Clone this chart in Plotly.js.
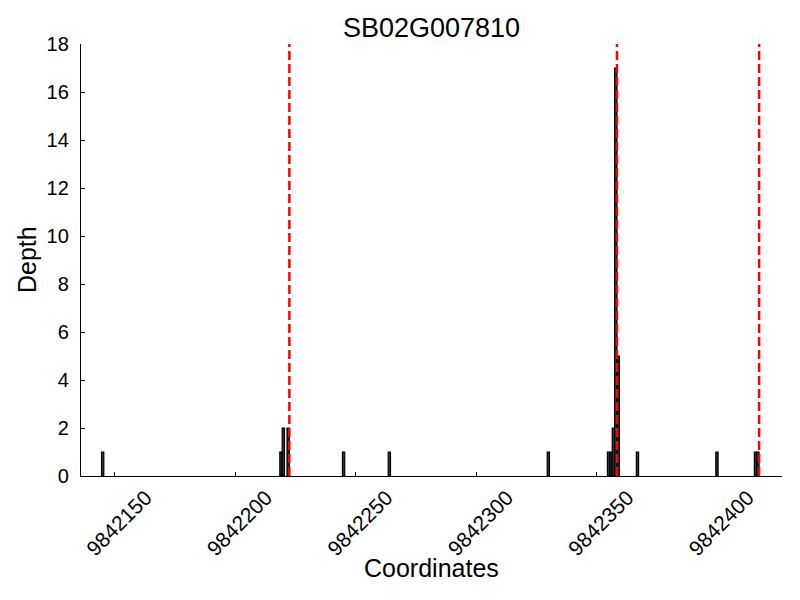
<!DOCTYPE html>
<html>
<head>
<meta charset="utf-8">
<script src="https://cdn.plot.ly/plotly-3.0.1.min.js"></script>
<style>html,body{margin:0;padding:0;background:#fff;}#chart{width:800px;height:600px;}</style>
</head>
<body>
<div id="chart"></div>
<script>
// Data
const chartTitle = "SB02G007810";
const xTitle = "Coordinates";
const yTitle = "Depth";
const positions = [9842145, 9842219, 9842220, 9842222, 9842245, 9842264, 9842330,
                   9842355, 9842356, 9842357, 9842358, 9842359, 9842367, 9842400,
                   9842416, 9842417];
const depths = [1, 1, 2, 2, 1, 1, 1, 1, 1, 2, 17, 5, 1, 1, 1, 1];
const geneBoundaries = [9842222.5, 9842358.5, 9842417.5];
const xTickVals = [9842150, 9842200, 9842250, 9842300, 9842350, 9842400];
const yTickVals = [0, 2, 4, 6, 8, 10, 12, 14, 16, 18];

const FONT = "Liberation Sans, Arial, Helvetica, sans-serif";

const trace = {
  type: "bar",
  x: positions,
  y: depths,
  width: 0.95,
  marker: {color: "#333333", line: {color: "#000", width: 1.2}},
  hoverinfo: "x+y"
};

const shapes = geneBoundaries.map(g => ({
  type: "line", xref: "x", yref: "paper",
  x0: g, x1: g, y0: 0, y1: 1,
  line: {color: "red", width: 2.5, dash: "9px,4px"},
  layer: "above"
}));

const layout = {
  width: 800, height: 600,
  margin: {l: 81, r: 18, t: 44, b: 124},
  paper_bgcolor: "#fff", plot_bgcolor: "#fff",
  showlegend: false,
  bargap: 0,
  title: {text: chartTitle, font: {family: FONT, size: 27, color: "#000"},
          x: 0.5, xref: "paper", xanchor: "center", y: 1 - 28/600, yanchor: "middle", yref: "container"},
  xaxis: {
    range: [9842136, 9842427],
    tickvals: xTickVals, ticktext: xTickVals.map(String),
    tickangle: -45,
    ticks: "inside", ticklen: 4, tickcolor: "#000", tickwidth: 1,
    ticklabelshift: 31, ticklabelstandoff: 0,
    tickfont: {family: FONT, size: 21, color: "#000"},
    showline: true, linecolor: "#000", linewidth: 1.2,
    showgrid: false, zeroline: false
  },
  yaxis: {
    range: [0, 18],
    tickvals: yTickVals,
    ticks: "inside", ticklen: 4, tickcolor: "#000", tickwidth: 1,
    ticklabelstandoff: 7,
    tickfont: {family: FONT, size: 20, color: "#000"},
    showline: true, linecolor: "#000", linewidth: 1.2,
    showgrid: false, zeroline: false
  },
  annotations: [
    {text: xTitle, xref: "paper", yref: "paper", x: 0.5, y: (476 - 568) / 432,
     xanchor: "center", yanchor: "middle", showarrow: false,
     font: {family: FONT, size: 25, color: "#000"}},
    {text: yTitle, xref: "paper", yref: "paper", x: (27 - 81) / 701, y: 0.5,
     xanchor: "center", yanchor: "middle", textangle: -90, showarrow: false,
     font: {family: FONT, size: 25, color: "#000"}}
  ],
  shapes: shapes
};

Plotly.newPlot("chart", [trace], layout, {displayModeBar: false, staticPlot: true});
</script>
</body>
</html>
